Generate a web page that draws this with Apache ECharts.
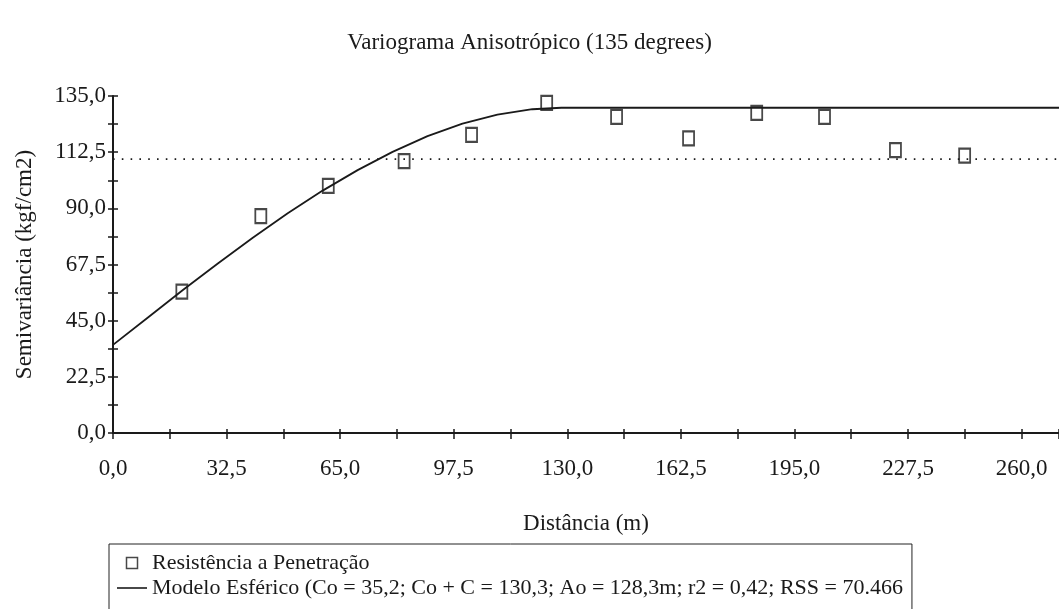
<!DOCTYPE html>
<html>
<head>
<meta charset="utf-8">
<script src="https://cdn.jsdelivr.net/npm/echarts@6/dist/echarts.min.js"></script>
<style>
  html, body { margin: 0; padding: 0; background: #fff; }
  #chart { width: 1059px; height: 609px; }
</style>
</head>
<body>
<div id="chart"></div>
<script>
// dados
var lagDist = [19.7, 42.3, 61.6, 83.3, 102.6, 124.1, 144.1, 164.7, 184.2, 203.6, 223.9, 243.7];
var semivar = [56.6, 86.9, 99.0, 108.9, 119.4, 132.2, 126.6, 118.0, 128.2, 126.6, 113.3, 111.1];

// modelo esférico
var modelDist = [0, 10, 20, 30, 40, 50, 60, 70, 80, 90, 100, 110, 120, 128.3, 270.7];
var modelVal  = [35.3, 46.3, 57.3, 67.9, 78.2, 88.0, 97.1, 105.3, 112.6, 118.9, 123.9, 127.5, 129.7, 130.3, 130.3];

var sampleVar = 109.7;
var xMax = 270.7;

var yTicks = [0, 22.5, 45, 67.5, 90, 112.5, 135];
var xTicks = [0, 32.5, 65, 97.5, 130, 162.5, 195, 227.5, 260];

var seriesNames = [
  'Resistência a Penetração',
  'Modelo Esférico (Co = 35,2; Co + C = 130,3; Ao = 128,3m; r2 = 0,42; RSS = 70.466'
];

var fnt = 'Liberation Serif';
var ink = '#1a1a1a';

function fmt(list) {
  return function (v) {
    for (var i = 0; i < list.length; i++) {
      if (Math.abs(list[i] - v) < 1e-6) return list[i].toFixed(1).replace('.', ',');
    }
    return '';
  };
}

var pts = [];
for (var i = 0; i < lagDist.length; i++) pts.push([lagDist[i], semivar[i]]);
var curve = [];
for (var j = 0; j < modelDist.length; j++) curve.push([modelDist[j], modelVal[j]]);

var myChart = echarts.init(document.getElementById('chart'));

var option = {
  animation: false,
  backgroundColor: '#fff',
  title: {
    text: 'Variograma Anisotrópico (135 degrees)',
    left: 'center',
    top: 26,
    textStyle: { fontFamily: fnt, fontSize: 23, fontWeight: 'normal', color: ink }
  },
  legend: {
    orient: 'vertical',
    left: 109,
    top: 544,
    height: 120,
    padding: [8, 9, 30, 8],
    itemGap: 3,
    itemWidth: 30,
    itemHeight: 11,
    borderColor: '#222',
    borderWidth: 1,
    selectedMode: false,
    textStyle: { fontFamily: fnt, fontSize: 22, color: ink },
    data: [
      { name: seriesNames[0], icon: 'path://M0,0H11V11H0Z',
        itemStyle: { color: 'transparent', borderColor: ink, borderWidth: 1.5 } },
      { name: seriesNames[1], icon: 'path://M0,0H30V1.6H0Z',
        itemStyle: { color: ink, borderWidth: 0 } }
    ]
  },
  grid: { left: 113, right: 0, top: 96, bottom: 176, outerBoundsMode: 'none' },
  xAxis: [{
    type: 'value',
    min: 0, max: xMax, interval: 16.25,
    name: 'Distância (m)',
    nameLocation: 'middle',
    nameGap: 79,
    nameTextStyle: { fontFamily: fnt, fontSize: 23, color: ink },
    axisLine: { lineStyle: { color: ink, width: 2 } },
    axisTick: { length: 6, lineStyle: { color: ink, width: 1.5 } },
    axisLabel: { margin: 24, fontFamily: fnt, fontSize: 23, color: ink, formatter: fmt(xTicks) },
    splitLine: { show: false }
  }, {
    type: 'value',
    min: 0, max: xMax, interval: 16.25,
    position: 'bottom',
    axisLine: { show: false },
    axisTick: { inside: true, length: 4, lineStyle: { color: ink, width: 1.5 } },
    axisLabel: { show: false },
    splitLine: { show: false }
  }],
  yAxis: [{
    type: 'value',
    min: 0, max: 135, interval: 11.25,
    name: 'Semivariância (kgf/cm2)',
    nameLocation: 'middle',
    nameGap: 77,
    nameTextStyle: { fontFamily: fnt, fontSize: 23, color: ink },
    axisLine: { show: true, lineStyle: { color: ink, width: 2 } },
    axisTick: { show: true, length: 5, lineStyle: { color: ink, width: 1.5 } },
    axisLabel: { margin: 7, fontFamily: fnt, fontSize: 23, color: ink, formatter: fmt(yTicks) },
    splitLine: { show: false }
  }, {
    type: 'value',
    min: 0, max: 135, interval: 11.25,
    position: 'left',
    axisLine: { show: false },
    axisTick: { show: true, inside: true, length: 5, lineStyle: { color: ink, width: 1.5 } },
    axisLabel: { show: false },
    splitLine: { show: false }
  }],
  series: [{
    name: 'variancia',
    type: 'line',
    data: [[0, sampleVar], [xMax, sampleVar]],
    symbol: 'none',
    silent: true,
    lineStyle: { color: ink, width: 1.6, type: [1.6, 7.2] },
    z: 1
  }, {
    name: seriesNames[1],
    type: 'line',
    data: curve,
    symbol: 'none',
    itemStyle: { color: ink },
    lineStyle: { color: ink, width: 1.8 },
    z: 2
  }, {
    name: seriesNames[0],
    type: 'scatter',
    data: pts,
    symbol: 'rect',
    symbolSize: [11, 14],
    itemStyle: { color: 'transparent', borderColor: ink, borderWidth: 2 },
    z: 3
  }]
};

myChart.setOption(option);
</script>
</body>
</html>
